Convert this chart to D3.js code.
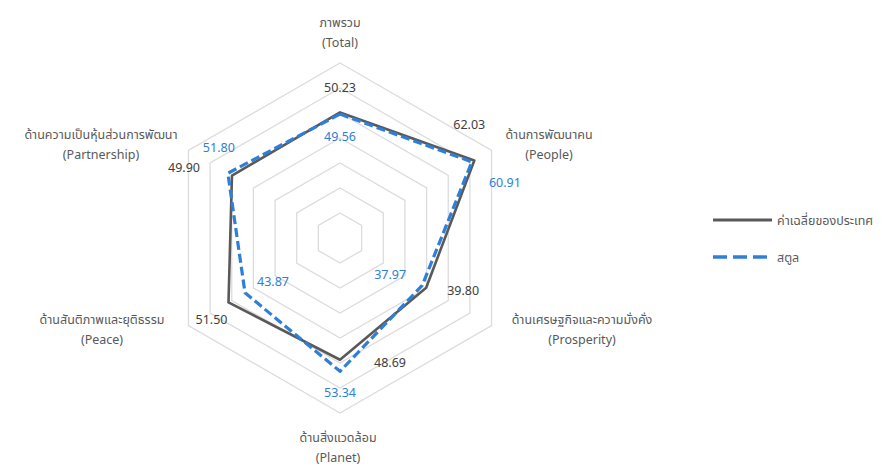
<!DOCTYPE html>
<html><head><meta charset="utf-8">
<script src="https://cdn.jsdelivr.net/npm/d3@7"></script>
<style>body{margin:0;background:#fff}svg{display:block}text{font-family:"Noto Sans Thai","Leelawadee UI",Tahoma,"Noto Sans",sans-serif}</style>
</head><body><svg id="c" width="893" height="468"></svg>
<script>
const axesTh = ["ภาพรวม","ด้านการพัฒนาคน","ด้านเศรษฐกิจและความมั่งคั่ง","ด้านสิ่งแวดล้อม","ด้านสันติภาพและยุติธรรม","ด้านความเป็นหุ้นส่วนการพัฒนา"];
const axesEn = ["(Total)","(People)","(Prosperity)","(Planet)","(Peace)","(Partnership)"];
const seriesNames = ["ค่าเฉลี่ยของประเทศ","สตูล"];
const national = [50.23,62.03,39.80,48.69,51.50,49.90];
const satun = [49.56,60.91,37.97,53.34,43.87,51.80];
const ringLevels = [10,20,30,40,50,60,70];

const svg = d3.select("#c");
const cx = 340, cy = 238, R = 175;
const r = d3.scaleLinear().domain([0,70]).range([0,R]);
const ang = d3.scalePoint().domain(d3.range(6)).range([0, 300]);
const pt = (i,v)=>{const a=ang(i)*Math.PI/180; return [cx+r(v)*Math.sin(a), cy-r(v)*Math.cos(a)];};
const g = svg.append("g");
ringLevels.forEach(l=>{
  g.append("path").attr("d", d3.line()(d3.range(6).map(i=>pt(i,l)))+"Z")
   .attr("fill","none").attr("stroke","#dcdcdc").attr("stroke-width",1.3);
});
const lineGen = d3.line().curve(d3.curveLinearClosed);
g.append("path").attr("d", lineGen(national.map((v,i)=>pt(i,v))))
  .attr("fill","none").attr("stroke","#595959").attr("stroke-width",2.6).attr("stroke-linejoin","round");
g.append("path").attr("d", lineGen(satun.map((v,i)=>pt(i,v))))
  .attr("fill","none").attr("stroke","#2f7ed8").attr("stroke-width",3.2).attr("stroke-dasharray","9,4").attr("stroke-linejoin","round");

const FS = 12.5;
// value labels (offsets from the data point: dx, dy to baseline)
const natOff = [[0,-20],[-5,-31],[37,7],[50,7],[-17,22],[-48,-4]];
const satOff = [[0,27],[33,25],[-32,-6],[0,26],[28,-7],[-9,-21]];
national.forEach((v,i)=>{const p=pt(i,v);
  g.append("text").attr("x",p[0]+natOff[i][0]).attr("y",p[1]+natOff[i][1]).attr("text-anchor","middle")
   .attr("font-size",FS).attr("fill","#404040").text(v.toFixed(2));});
satun.forEach((v,i)=>{const p=pt(i,v);
  g.append("text").attr("x",p[0]+satOff[i][0]).attr("y",p[1]+satOff[i][1]).attr("text-anchor","middle")
   .attr("font-size",FS).attr("fill","#2f7ed8").text(v.toFixed(2));});

// axis labels
const labPos = [[340,27],[549,139],[582,324],[338,442],[102,324],[101,139]];
axesTh.forEach((t,i)=>{
  const tx = g.append("text").attr("text-anchor","middle").attr("font-size",FS).attr("fill","#595959");
  tx.append("tspan").attr("x",labPos[i][0]).attr("y",labPos[i][1]).text(t);
  tx.append("tspan").attr("x",labPos[i][0]).attr("y",labPos[i][1]+20).text(axesEn[i]);
});

// legend
const lg = svg.append("g");
lg.append("line").attr("x1",713).attr("x2",772).attr("y1",220).attr("y2",220).attr("stroke","#595959").attr("stroke-width",2.8);
lg.append("text").attr("x",777).attr("y",225).attr("font-size",FS).attr("fill","#595959").text(seriesNames[0]);
lg.append("line").attr("x1",713).attr("x2",770).attr("y1",257).attr("y2",257).attr("stroke","#2f7ed8").attr("stroke-width",3.4).attr("stroke-dasharray","14,6");
lg.append("text").attr("x",777).attr("y",262).attr("font-size",FS).attr("fill","#595959").text(seriesNames[1]);
</script></body></html>
